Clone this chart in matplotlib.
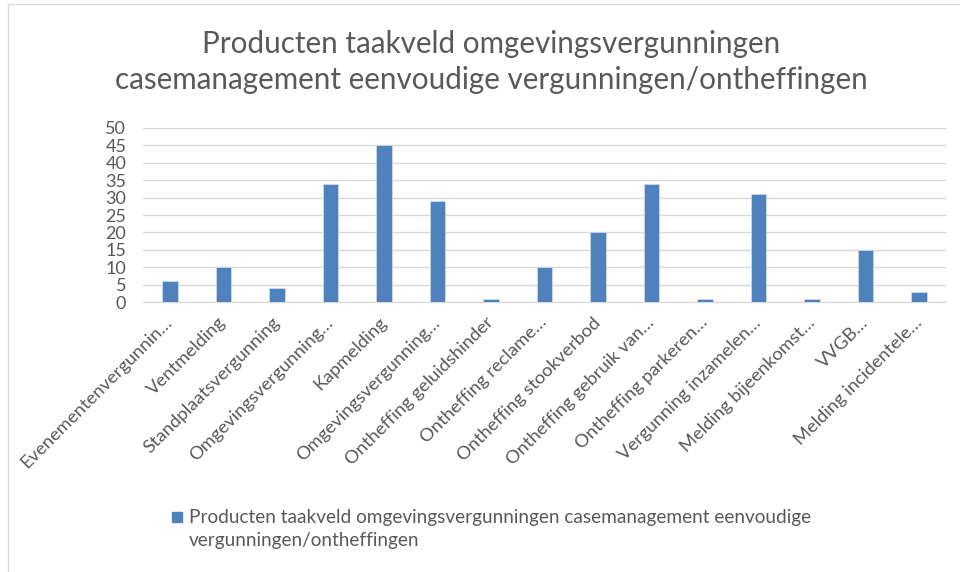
import matplotlib.pyplot as plt
import numpy as np

# categorieen en aantallen
categorieen = [
    'Evenementenvergunnin…', 'Ventmelding', 'Standplaatsvergunning',
    'Omgevingsvergunning…', 'Kapmelding', 'Omgevingsvergunning…',
    'Ontheffing geluidshinder', 'Ontheffing reclame…', 'Ontheffing stookverbod',
    'Ontheffing gebruik van…', 'Ontheffing parkeren…', 'Vergunning inzamelen…',
    'Melding bijeenkomst…', 'VVGB…', 'Melding incidentele…',
]
aantallen = [6, 10, 4, 34, 45, 29, 1, 10, 20, 34, 1, 31, 1, 15, 3]
y_ticks = [0, 5, 10, 15, 20, 25, 30, 35, 40, 45, 50]

titel = 'Producten taakveld omgevingsvergunningen\ncasemanagement eenvoudige vergunningen/ontheffingen'
legenda = 'Producten taakveld omgevingsvergunningen casemanagement eenvoudige\nvergunningen/ontheffingen'

grijs = '#595959'
blauw = '#4f81bd'

plt.rcParams['font.family'] = ['Lato', 'DejaVu Sans']

fig = plt.figure(figsize=(9.6, 5.72), dpi=100)
ax = fig.add_axes([143 / 960, 1 - 302 / 572, 803 / 960, 174 / 572])

x = np.arange(len(categorieen))
ax.bar(x, aantallen, width=0.29, color=blauw, edgecolor='#c9d9ee', linewidth=0.6,
       zorder=3, label=legenda)

ax.set_xlim(-0.5, len(categorieen) - 0.5)
ax.set_ylim(0, 50)
ax.set_yticks(y_ticks)
ax.set_yticklabels([str(v) for v in y_ticks], fontsize=13, color=grijs)
ax.set_xticks(x)
ax.set_xticklabels(categorieen, rotation=45, ha='right', va='center',
                   rotation_mode='anchor', fontsize=13.2, color=grijs)
ax.tick_params(axis='both', length=0)
ax.tick_params(axis='y', pad=12)
ax.tick_params(axis='x', pad=13)
ax.grid(axis='y', color='#d9d9d9', linewidth=1, zorder=0)
for s in ['top', 'right', 'left']:
    ax.spines[s].set_visible(False)
ax.spines['bottom'].set_color('#d9d9d9')

fig.text(491 / 960, 1 - 62 / 572, titel, ha='center', va='center', fontsize=21.3,
         color=grijs, linespacing=1.35)

# legenda onderaan
fig.patches.append(plt.Rectangle((172 / 960, 1 - 522 / 572), 10 / 960, 10 / 572,
                                 transform=fig.transFigure, color=blauw))
fig.text(189 / 960, 1 - 529 / 572, legenda, ha='left', va='center', fontsize=13.7,
         color=grijs, linespacing=1.45)

# kader
fig.add_artist(plt.Line2D([8 / 960, 8 / 960], [0, 1 - 4 / 572], color='#d9d9d9',
                          linewidth=1, transform=fig.transFigure))
fig.add_artist(plt.Line2D([8 / 960, 1], [1 - 4 / 572, 1 - 4 / 572], color='#d9d9d9',
                          linewidth=1, transform=fig.transFigure))

fig.savefig('out.png', dpi=100)
